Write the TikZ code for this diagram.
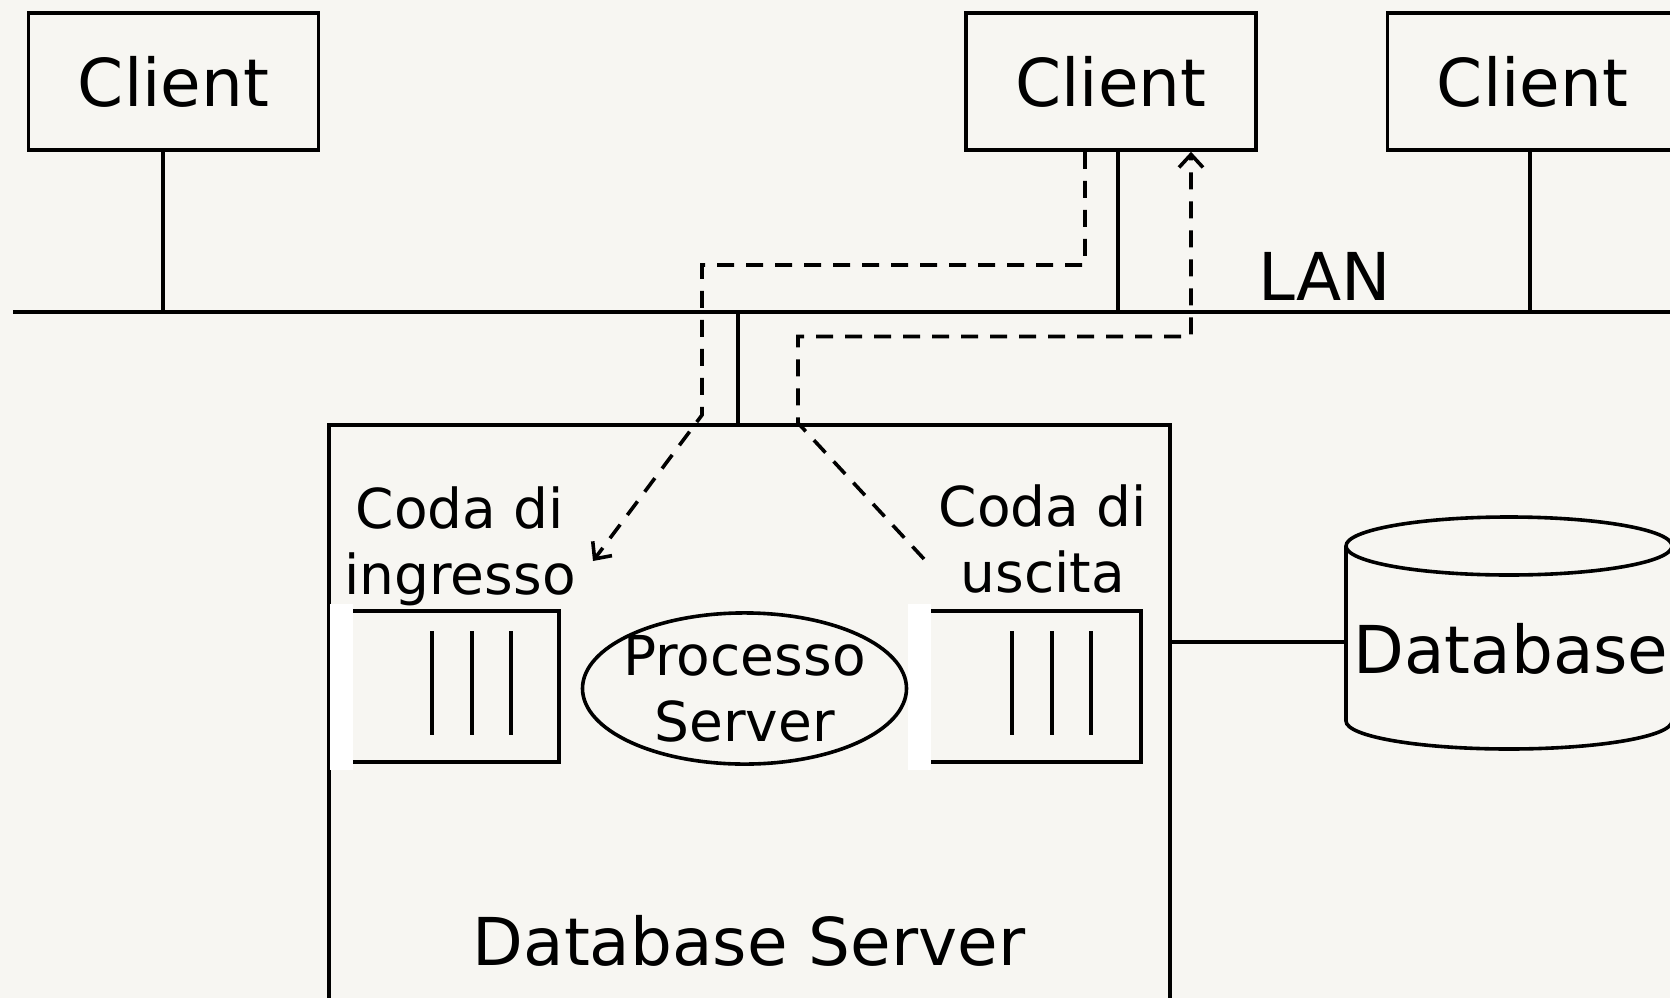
\documentclass[tikz,border=0pt]{standalone}
\usepackage{fontspec}
\setmainfont{DejaVu Sans}
\usetikzlibrary{arrows.meta,shapes.geometric}
\definecolor{sfondo}{RGB}{247,246,242}

\begin{document}
\begin{tikzpicture}[x=1pt, y=-1pt, line width=3.6pt,
	grande/.style={font=\fontsize{66}{79}\selectfont},
	piccolo/.style={align=center, font=\fontsize{55}{66}\selectfont},
	client/.style={draw, grande, minimum width=290pt, minimum height=137pt},
	flusso/.style={dash pattern=on 17pt off 12pt, -{Straight Barb[length=13pt,width=24pt]}}]
	% Sfondo e cornice
	\fill[sfondo] (0,0) rectangle (1670,998);
	\useasboundingbox (0,0) rectangle (1670,998);
	\clip (0,0) rectangle (1670,998);
	
	% Client
	\node[client] (c1) at (173.5,81.5) {Client};
	\node[client] (c2) at (1111,81.5) {Client};
	\node[client] (c3) at (1532.5,81.5) {Client};
	
	% LAN
	\coordinate (lanA) at (13,312);
	\coordinate (lanB) at (1690,312);
	\draw (lanA) -- (lanB);
	\node[grande] (lan) at (1325,276) {LAN};
	\coordinate (t1) at (163,312);
	\coordinate (t2) at (1118,312);
	\coordinate (t3) at (1530,312);
	\coordinate (t4) at (738,312);
	\draw (t1 |- c1.south) -- (t1);
	\draw (t2 |- c2.south) -- (t2);
	\draw (t3 |- c3.south) -- (t3);
	
	% Database Server
	\node[draw, anchor=north west, minimum width=841pt, minimum height=700pt] (srv) at (327,423) {};
	\draw (t4) -- (t4 |- srv.north);
	\node[grande] (srvnome) at (749,941) {Database Server};
	
	% Code di ingresso e di uscita
	\node[minimum width=202pt, minimum height=147pt] (qin) at (456,686.5) {};
	\node[minimum width=206pt, minimum height=147pt] (qout) at (1036,686.5) {};
	\foreach \q in {qin,qout}{
		\fill[white] ([shift={(-23,-7)}]\q.north west) rectangle ([shift={(0,8)}]\q.south west);
		\draw (\q.north west) -- (\q.north east) -- (\q.south east) -- (\q.south west);
		\foreach \dx in {-24,16,55}
			\draw ([shift={(\dx,-3.5)}]\q.center) ++(0,-52) -- ++(0,104);
	}
	\node[piccolo] (lin) at (460,546) {Coda di\\ingresso};
	\node[piccolo] (lout) at (1043,539) {Coda di\\uscita};
	
	% Processo Server
	\node[draw, ellipse, inner xsep=-12pt, inner ysep=0pt, minimum width=324pt, minimum height=150pt, piccolo] (proc) at (744.5,688.5) {Processo\\Server};
	
	% Database
	\draw (1346,546) -- (1346,721) arc[start angle=180, end angle=0, x radius=163, y radius=28] -- (1672,546);
	\draw (1509,546) ellipse[x radius=163, y radius=29];
	\node[grande] (db) at (1511,649) {Database};
	\coordinate (dbL) at (1346,642);
	\draw (dbL -| srv.east) -- (dbL);
	
	% Percorso della richiesta e della risposta
	\coordinate (arrIn) at (593,561);
	\coordinate (parOut) at (924,559);
	\draw[flusso] ([xshift=-26pt]c2.south) |- (702,265) -- (702,415) -- (arrIn);
	\draw[flusso] (parOut) -- (798,423) -- (798,336.5) -| ([xshift=80pt]c2.south);
\end{tikzpicture}
\end{document}
